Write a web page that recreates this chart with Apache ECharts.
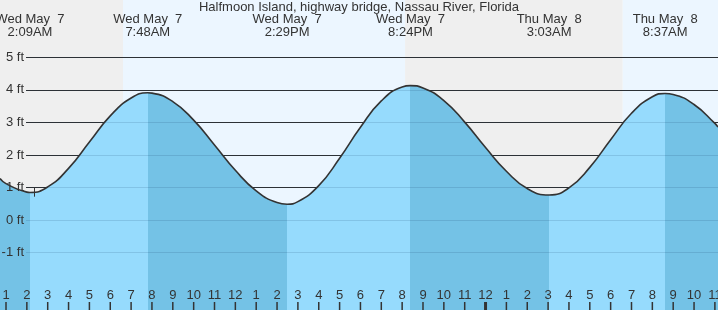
<!DOCTYPE html>
<html>
<head>
<meta charset="utf-8">
<script src="https://cdn.jsdelivr.net/npm/echarts@6/dist/echarts.min.js"></script>
<style>
  html, body { margin: 0; padding: 0; background: #ffffff; }
  #chart { width: 718px; height: 310px; }
</style>
</head>
<body>
<div id="chart"></div>
<script>
// ---------- data ----------
// hours since Wed May 7 00:00
const TIDE_HOURS = [0.712, 1, 2, 2.15, 3, 4, 5, 6, 7, 7.8, 8, 9, 10, 11, 12, 13, 14, 14.483, 15, 16, 17, 18, 19, 20, 20.4, 21, 22, 23, 24, 25, 26, 27.05, 28, 29, 30, 31, 32, 32.617, 33, 34, 35, 35.149];
const TIDE_FEET  = [1.28, 1.12, 0.86, 0.85, 1.02, 1.59, 2.40, 3.20, 3.75, 3.91, 3.90, 3.64, 3.07, 2.31, 1.53, 0.90, 0.54, 0.49, 0.57, 1.06, 1.90, 2.85, 3.66, 4.09, 4.13, 4.06, 3.67, 3.01, 2.23, 1.50, 0.97, 0.77, 0.99, 1.62, 2.47, 3.28, 3.79, 3.89, 3.86, 3.55, 2.97, 2.86];

const EVENT_HOURS = [2.15, 7.8, 14.483, 20.4, 27.05, 32.617];
const EVENT_DATES = ['Wed May  7', 'Wed May  7', 'Wed May  7', 'Wed May  7', 'Thu May  8', 'Thu May  8'];
const EVENT_TIMES = ['2:09AM', '7:48AM', '2:29PM', '8:24PM', '3:03AM', '8:37AM'];

const SUN_HOURS = [6.61, 20.14, 30.58];   // sunrise, sunset, sunrise

const Y_TICKS = [5, 4, 3, 2, 1, 0, -1];
const Y_LABELS = ['5 ft', '4 ft', '3 ft', '2 ft', '1 ft', '0 ft', '-1 ft'];

const HOUR_TICKS = [1,2,3,4,5,6,7,8,9,10,11,12,13,14,15,16,17,18,19,20,21,22,23,24,25,26,27,28,29,30,31,32,33,34,35];
const HOUR_LABELS = ['1','2','3','4','5','6','7','8','9','10','11','12','1','2','3','4','5','6','7','8','9','10','11','12','1','2','3','4','5','6','7','8','9','10','11'];
const MIDNIGHT = 24;

const NOW_HOUR = 2.34;
const NOW_FEET = [1.0, 0.72];

const TITLE = 'Halfmoon Island, highway bridge, Nassau River, Florida';

// ---------- layout / style constants ----------
const X_MIN = 0.712, X_MAX = 35.149;
const Y_MIN = -2.759, Y_MAX = 6.759;
const LINE_START = 1.96;
const FONT = "'Liberation Sans', Arial, sans-serif";
const TXT = '#333333';
const NIGHT = '#efefef', DAY = '#ecf6ff';
const WATER_LIGHT = '#96dbfd', WATER_DARK = '#74c2e6';

// ---------- build options ----------
const tide = TIDE_HOURS.map((h, i) => [h, TIDE_FEET[i]]);

const waterPieces = [];
for (let i = 0; i <= EVENT_HOURS.length; i++) {
  const p = { color: i % 2 === 0 ? WATER_DARK : WATER_LIGHT };
  if (i > 0) p.gte = EVENT_HOURS[i - 1];
  if (i < EVENT_HOURS.length) p.lt = EVENT_HOURS[i];
  waterPieces.push(p);
}

const sunEdges = [X_MIN].concat(SUN_HOURS, [X_MAX]);
const skyAreas = [];
for (let i = 0; i < sunEdges.length - 1; i++) {
  skyAreas.push([
    { xAxis: sunEdges[i], itemStyle: { color: i % 2 === 0 ? NIGHT : DAY } },
    { xAxis: sunEdges[i + 1] }
  ]);
}

const gridLines = Y_TICKS.map(v => [{ coord: [LINE_START, v] }, { coord: [X_MAX, v] }]);

const hourTickMarks = HOUR_TICKS.map(h => ({
  value: [h, Y_MIN],
  symbolSize: h === MIDNIGHT ? [3, 16] : [1.5, 16]
}));

function lookup(values, labels, v) {
  for (let i = 0; i < values.length; i++) if (Math.abs(values[i] - v) < 1e-6) return labels[i];
  return '';
}

const chart = echarts.init(document.getElementById('chart'), null, { renderer: 'canvas' });

chart.setOption({
  animation: false,
  backgroundColor: '#ffffff',
  title: {
    text: TITLE,
    left: 'center',
    top: 1,
    padding: 0,
    z: 20,
    textStyle: { fontFamily: FONT, fontSize: 13, fontWeight: 'normal', color: TXT }
  },
  grid: { left: 0, right: 0, top: 0, bottom: 0, containLabel: false, outerBoundsMode: 'none' },
  xAxis: [
    {
      type: 'value', position: 'bottom', min: X_MIN, max: X_MAX, z: 10,
      axisLine: { show: false, onZero: false }, splitLine: { show: false },
      axisTick: { show: false },
      axisLabel: {
        show: true, inside: true, margin: 8, customValues: HOUR_TICKS, hideOverlap: false,
        fontFamily: FONT, fontSize: 13, color: TXT,
        formatter: v => lookup(HOUR_TICKS, HOUR_LABELS, v)
      }
    },
    {
      type: 'value', position: 'top', min: X_MIN, max: X_MAX, z: 10,
      axisLine: { show: false, onZero: false }, splitLine: { show: false }, axisTick: { show: false },
      axisLabel: {
        show: true, inside: true, margin: 13, customValues: EVENT_HOURS, hideOverlap: false,
        fontFamily: FONT, fontSize: 13, color: TXT, lineHeight: 13, align: 'center',
        formatter: v => lookup(EVENT_HOURS, EVENT_DATES, v) + '\n' + lookup(EVENT_HOURS, EVENT_TIMES, v)
      }
    }
  ],
  yAxis: {
    type: 'value', position: 'left', min: Y_MIN, max: Y_MAX, z: 10,
    axisLine: { show: false, onZero: false }, splitLine: { show: false }, axisTick: { show: false },
    axisLabel: {
      show: true, inside: true, margin: 24, align: 'right', customValues: Y_TICKS, hideOverlap: false,
      fontFamily: FONT, fontSize: 13, color: TXT,
      formatter: v => lookup(Y_TICKS, Y_LABELS, v)
    }
  },
  visualMap: [
    { type: 'piecewise', show: false, dimension: 0, seriesIndex: 1, pieces: waterPieces }
  ],
  series: [
    {
      name: 'sky', type: 'line', data: tide, z: 1, silent: true,
      showSymbol: false, lineStyle: { width: 0, opacity: 0 },
      markArea: { silent: true, z: 1, label: { show: false }, data: skyAreas },
      markLine: {
        silent: true, z: 2, symbol: ['none', 'none'], label: { show: false },
        lineStyle: { color: '#333333', width: 1, type: 'solid' },
        data: gridLines
      }
    },
    {
      name: 'water', type: 'line', data: tide, z: 3, silent: true, smooth: true,
      showSymbol: false, lineStyle: { width: 0 },
      areaStyle: { opacity: 1, origin: 'start' }
    },
    {
      name: 'gridUnder', type: 'line', data: tide, z: 4, silent: true,
      showSymbol: false, lineStyle: { width: 0, opacity: 0 },
      markLine: {
        silent: true, z: 4, symbol: ['none', 'none'], label: { show: false },
        lineStyle: { color: 'rgba(0,40,80,0.13)', width: 1, type: 'solid' },
        data: gridLines
      }
    },
    {
      name: 'tide', type: 'line', data: tide, z: 5, silent: true, smooth: true,
      showSymbol: false, lineStyle: { color: '#333333', width: 1.6 },
      markLine: {
        silent: true, z: 6, symbol: ['none', 'none'], label: { show: false },
        lineStyle: { color: '#333333', width: 1, type: 'solid' },
        data: [[{ coord: [NOW_HOUR, NOW_FEET[0]] }, { coord: [NOW_HOUR, NOW_FEET[1]] }]]
      }
    },
    {
      name: 'hourTicks', type: 'scatter', data: hourTickMarks, z: 12, silent: true,
      symbol: 'rect', clip: false,
      itemStyle: { color: TXT, opacity: 1 }
    }
  ]
});
</script>
</body>
</html>
